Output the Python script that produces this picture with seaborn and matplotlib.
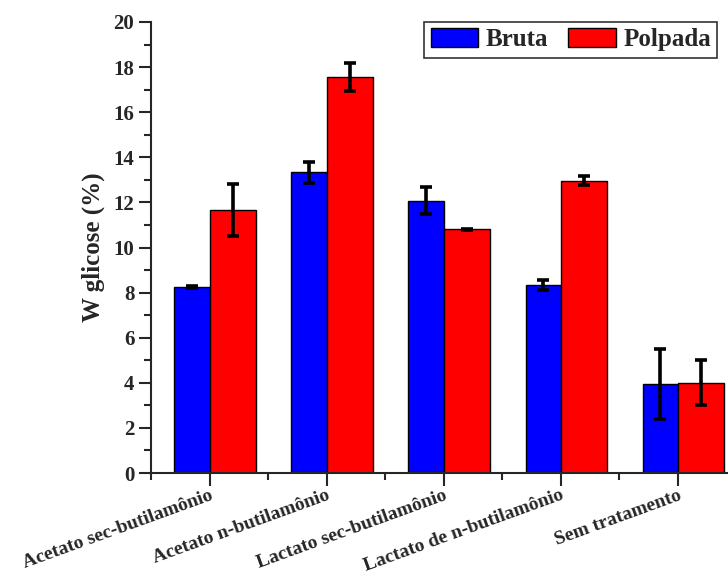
import numpy as np
import pandas as pd
import matplotlib
matplotlib.use("Agg")
import matplotlib.pyplot as plt
import seaborn as sns
from matplotlib.ticker import MultipleLocator

# Data
tratamentos = ["Acetato sec-butilamônio", "Acetato n-butilamônio",
               "Lactato sec-butilamônio", "Lactato de n-butilamônio",
               "Sem tratamento"]
bruta = [8.25, 13.33, 12.08, 8.33, 3.95]
bruta_err = [0.05, 0.45, 0.59, 0.22, 1.54]
polpada = [11.67, 17.55, 10.81, 12.96, 4.00]
polpada_err = [1.16, 0.63, 0.03, 0.21, 1.00]
amostras = ["Bruta", "Polpada"]
cores = ["#0000FF", "#FF0000"]

df = pd.DataFrame({
    "Tratamento": tratamentos * 2,
    "Amostra": [amostras[0]] * 5 + [amostras[1]] * 5,
    "W": bruta + polpada,
})

sns.set_style("ticks")
plt.rcParams["font.family"] = ["Liberation Serif", "DejaVu Serif"]
plt.rcParams["font.weight"] = "bold"
plt.rcParams["axes.labelweight"] = "bold"

fig = plt.figure(figsize=(7.28, 5.77), dpi=100)
ax = fig.add_axes([0.2074, 0.1802, 0.7926, 0.7817])

sns.barplot(data=df, x="Tratamento", y="W", hue="Amostra", order=tratamentos,
            hue_order=amostras, palette=cores, edgecolor="black", linewidth=1,
            width=0.7, gap=0, errorbar=None, saturation=1, ax=ax)

# Blue bars are narrower than red ones in the original
widths = [0.3, 0.4]
n = len(tratamentos)
centros = np.arange(n)
for k, container in enumerate(ax.containers):
    for i, bar in enumerate(container):
        w = widths[k]
        bar.set_width(w)
        bar.set_x(centros[i] - w if k == 0 else centros[i])

ax.errorbar(centros - 0.15, bruta, yerr=bruta_err, fmt="none", ecolor="black",
            elinewidth=2.6, capsize=4, capthick=2.6, zorder=5)
ax.errorbar(centros + 0.2, polpada, yerr=polpada_err, fmt="none", ecolor="black",
            elinewidth=2.6, capsize=4, capthick=2.6, zorder=5)

ax.set_xlim(-0.5, 4.43)
ax.set_ylim(0, 20)
ax.yaxis.set_major_locator(MultipleLocator(2))
ax.yaxis.set_minor_locator(MultipleLocator(1))
ax.set_xticks(centros)
ax.set_xticks(np.arange(-0.5, 4.5, 1.0), minor=True)
ax.tick_params(axis="y", which="major", length=9, width=1.5, labelsize=15, pad=3)
ax.tick_params(axis="y", which="minor", length=5, width=1.5)
ax.tick_params(axis="x", which="major", length=9, width=1.5, labelsize=14, pad=1)
ax.tick_params(axis="x", which="minor", length=5, width=1.5)
ax.set_xticklabels(tratamentos, rotation=20, ha="right", rotation_mode="anchor")

for s in ["top", "right"]:
    ax.spines[s].set_visible(False)
for s in ["left", "bottom"]:
    ax.spines[s].set_linewidth(1.5)

ax.set_xlabel("")
ax.set_ylabel("W glicose (%)", fontsize=18, fontweight="bold", labelpad=6)

leg = ax.legend(loc="upper right", bbox_to_anchor=(0.985, 0.962),
                bbox_transform=fig.transFigure, ncol=2, frameon=True,
                fancybox=False, edgecolor="black", fontsize=18,
                handlelength=1.9, handleheight=0.8, columnspacing=0.8,
                handletextpad=0.3, borderpad=0.25, borderaxespad=0)
leg.get_frame().set_linewidth(1.2)
for t in leg.get_texts():
    t.set_fontweight("bold")

fig.savefig("out.png", dpi=100)
